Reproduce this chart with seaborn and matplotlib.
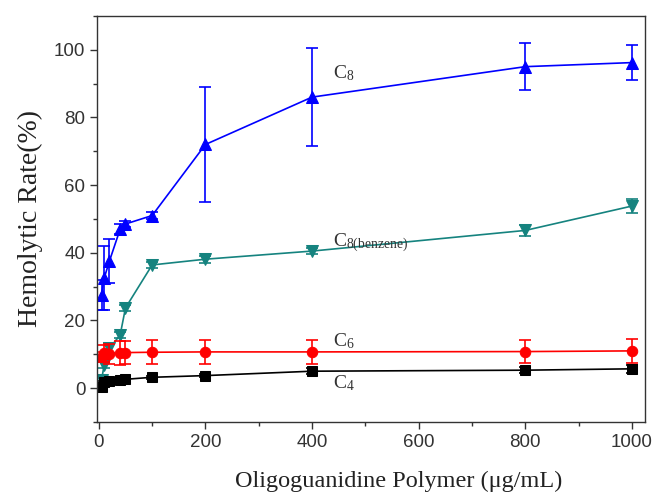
import matplotlib
matplotlib.use("Agg")
import matplotlib.pyplot as plt
import seaborn as sns
import pandas as pd
from matplotlib.ticker import MultipleLocator

sns.set_style("ticks")
plt.rcParams["mathtext.fontset"] = "custom"
plt.rcParams["mathtext.rm"] = "Liberation Serif"
plt.rcParams["mathtext.it"] = "Liberation Serif:italic"

conc = [5, 10, 20, 40, 50, 100, 200, 400, 800, 1000]
c8 = [27.5, 32.5, 37.6, 47.0, 48.5, 51.0, 72.0, 86.0, 95.0, 96.2]
c8_err = [4.5, 9.5, 6.5, 1.5, 1.0, 1.0, 17.0, 14.5, 7.0, 5.2]
c8b = [2.4, 6.8, 11.8, 15.7, 23.7, 36.4, 38.1, 40.5, 46.6, 53.8]
c8b_err = [1.0, 1.0, 1.5, 1.0, 1.0, 1.0, 1.0, 1.0, 1.5, 2.0]
c6 = [9.2, 10.3, 10.0, 10.3, 10.5, 10.6, 10.7, 10.7, 10.8, 11.0]
c6_err = [1.5, 2.5, 3.0, 3.5, 3.5, 3.5, 3.5, 3.5, 3.5, 3.5]
c4 = [0.3, 1.7, 2.0, 2.4, 2.6, 3.2, 3.7, 5.0, 5.3, 5.7]
c4_err = [0.3, 0.3, 0.3, 0.3, 0.3, 0.5, 0.5, 0.8, 0.8, 1.2]

series = [
    ("C8", c8, c8_err, "#0000ff", "^", 8),
    ("C8b", c8b, c8b_err, "#15837f", "v", 8),
    ("C6", c6, c6_err, "#ff0000", "o", 7.5),
    ("C4", c4, c4_err, "#000000", "s", 6.5),
]

fig = plt.figure(figsize=(6.57, 4.97), dpi=100)
ax = fig.add_axes([0.148, 0.151, 0.834, 0.817])

for name, vals, errs, color, mk, ms in series:
    df = pd.DataFrame({"x": conc, "y": vals})
    sns.lineplot(data=df, x="x", y="y", ax=ax, color=color, marker=mk,
                 markersize=ms, markeredgecolor=color, linewidth=1.2)
    ax.errorbar(conc, vals, yerr=errs, fmt="none", ecolor=color,
                elinewidth=1.2, capsize=4, capthick=1.2)

ax.set_xlim(-3, 1025)
ax.set_ylim(-10, 110)
ax.xaxis.set_major_locator(MultipleLocator(200))
ax.xaxis.set_minor_locator(MultipleLocator(100))
ax.yaxis.set_major_locator(MultipleLocator(20))
ax.yaxis.set_minor_locator(MultipleLocator(10))
ax.set_yticks([0, 20, 40, 60, 80, 100])
ax.tick_params(which="major", direction="out", length=5, width=1, labelsize=13.5,
               colors="#333333")
ax.tick_params(which="minor", direction="out", length=3, width=1, colors="#333333")
for lab in ax.get_xticklabels() + ax.get_yticklabels():
    lab.set_family("Liberation Sans")
for s in ax.spines.values():
    s.set_color("#333333")
    s.set_linewidth(1.0)

ax.set_xlabel("Oligoguanidine Polymer (\u03bcg/mL)", family="Liberation Serif",
              fontsize=17.5, color="#222222")
ax.xaxis.set_label_coords(0.55, -0.12)
ax.set_ylabel("Hemolytic Rate(%)", family="Liberation Serif", fontsize=20,
              labelpad=8, color="#222222")

tf = dict(family="Liberation Serif", fontsize=14, color="#333333")
ax.text(440, 91.5, r"C$_{8}$", **tf)
ax.text(440, 42.0, r"C$_{8\mathrm{(benzene)}}$", **tf)
ax.text(440, 12.5, r"C$_{6}$", **tf)
ax.text(440, 0.0, r"C$_{4}$", **tf)

fig.savefig("out.png", dpi=100)
